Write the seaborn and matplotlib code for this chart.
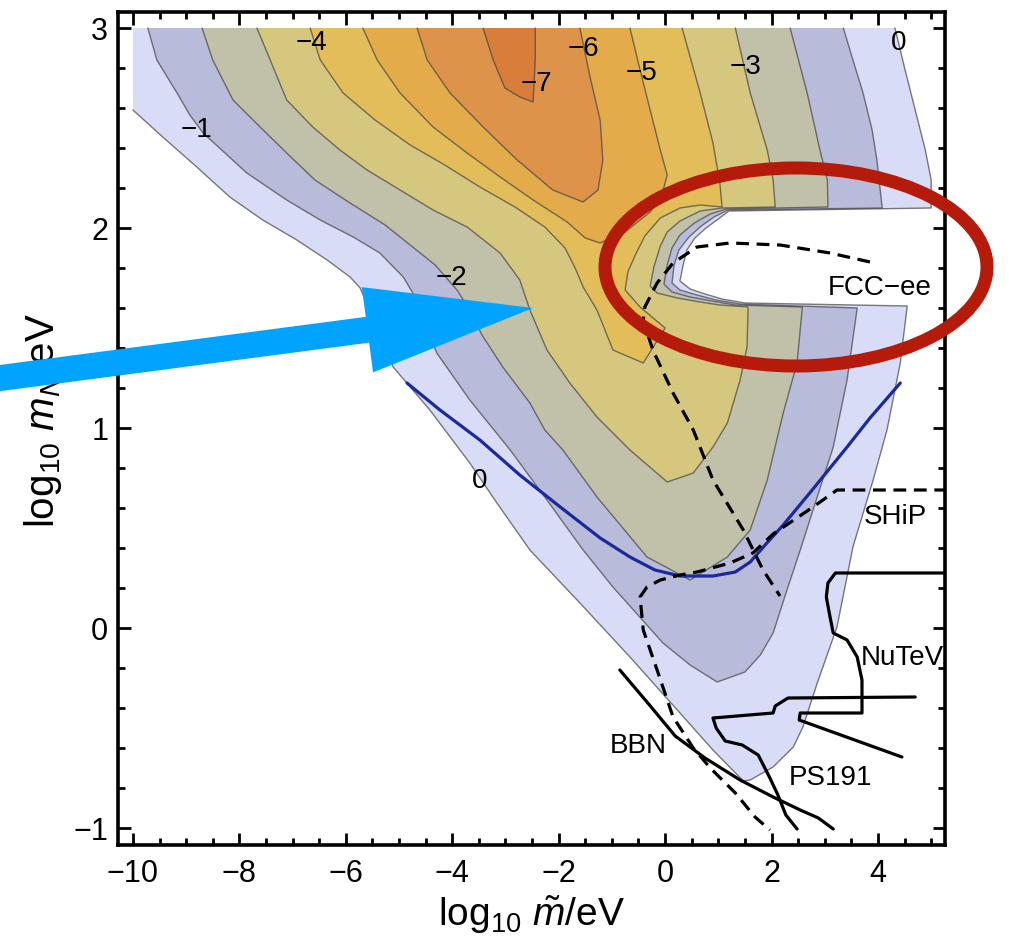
import numpy as np
import matplotlib
matplotlib.use("Agg")
import matplotlib.pyplot as plt
from matplotlib.patches import Polygon, Ellipse
from matplotlib.ticker import MultipleLocator
import seaborn as sns

# ------------------------------------------------------------------
# Filled regions below each contour level, in (log10 m~/eV, log10 m_N/eV)
# ------------------------------------------------------------------
levels = [0, -1, -2, -3, -4, -5, -6, -7]

lev0_x = [-10.00, 4.32, 4.51, 4.70, 4.89, 5.00, 5.00, 1.20, 1.00, 0.77, 0.56, 0.41, 0.34, 0.28,
          0.47, 0.75, 1.07, 1.50, 4.55, 4.42, 4.17, 3.91, 3.53, 3.23, 2.86, 2.59, 2.41, 2.03,
          1.60, 1.47, 0.90, 0.28, -0.66, -1.60, -2.54, -3.16, -3.67, -4.42, -5.11, -5.73,
          -5.92, -6.35, -6.92, -7.56, -8.18, -8.80, -9.44, -10.00]
lev0_y = [3.00, 3.00, 2.79, 2.59, 2.39, 2.24, 2.10, 2.085, 2.045, 2.00, 1.95, 1.89, 1.815, 1.735,
          1.695, 1.67, 1.645, 1.625, 1.61, 1.325, 0.99, 0.74, 0.405, 0.005, -0.275, -0.495,
          -0.595, -0.695, -0.76, -0.765, -0.61, -0.425, -0.145, 0.125, 0.39, 0.625, 0.825, 1.09,
          1.305, 1.70, 1.755, 1.84, 1.94, 2.04, 2.155, 2.305, 2.455, 2.59]

lev1_x = [-9.72, 3.35, 3.53, 3.72, 3.89, 3.98, 4.08, 1.18, 0.92, 0.68, 0.45, 0.26, 0.17, 0.13,
          0.28, 0.60, 0.96, 1.41, 3.61, 3.42, 3.16, 2.78, 2.54, 2.29, 2.03, 1.79, 1.50, 0.98,
          0.47, -0.04, -0.98, -1.54, -2.22, -2.91, -3.67, -4.29, -4.51, -4.74, -4.92, -5.36,
          -5.86, -6.48, -7.11, -7.86, -8.68, -8.93, -9.17, -9.55]
lev1_y = [3.00, 3.00, 2.84, 2.675, 2.49, 2.34, 2.10, 2.09, 2.055, 2.01, 1.955, 1.89, 1.815, 1.725,
          1.69, 1.665, 1.64, 1.62, 1.60, 1.24, 0.905, 0.59, 0.39, 0.19, -0.025, -0.135, -0.22,
          -0.27, -0.185, -0.075, 0.205, 0.39, 0.64, 0.89, 1.14, 1.375, 1.525, 1.675, 1.755,
          1.875, 1.955, 2.04, 2.14, 2.275, 2.475, 2.565, 2.675, 2.84]

lev2_x = [-8.70, 2.35, 2.67, 2.91, 3.05, 3.06, 1.15, 0.85, 0.55, 0.28, 0.13, 0.04, -0.02, 0.13,
          0.47, 0.88, 1.32, 2.58, 2.48, 2.22, 1.92, 1.60, 1.17, 0.47, -0.34, -1.28, -1.92, -2.26,
          -2.54, -3.05, -3.44, -3.67, -3.91, -4.32, -4.79, -5.26, -5.92, -6.58, -7.11, -7.61,
          -8.12, -8.50]
lev2_y = [3.00, 3.00, 2.675, 2.39, 2.24, 2.105, 2.095, 2.07, 2.025, 1.965, 1.90, 1.815, 1.72, 1.68,
          1.655, 1.635, 1.615, 1.605, 1.325, 1.075, 0.74, 0.49, 0.355, 0.24, 0.355, 0.655, 0.89,
          0.99, 1.125, 1.305, 1.465, 1.59, 1.69, 1.815, 1.915, 2.015, 2.125, 2.24, 2.375, 2.505,
          2.64, 2.84]

lev3_x = [-7.67, 1.32, 1.60, 1.92, 2.03, 2.07, 1.07, 0.66, 0.28, 0.04, -0.09, -0.21, -0.28, -0.15,
          0.23, 0.66, 1.03, 1.56, 1.54, 1.41, 1.17, 0.90, 0.53, 0.04, -0.66, -1.28, -1.79, -2.22,
          -2.54, -2.73, -3.10, -3.72, -4.36, -4.98, -5.60, -6.11, -6.62, -7.11, -7.42]
lev3_y = [3.00, 3.00, 2.675, 2.39, 2.24, 2.105, 2.10, 2.085, 2.035, 1.98, 1.91, 1.805, 1.71, 1.675,
          1.65, 1.63, 1.615, 1.605, 1.405, 1.24, 1.025, 0.905, 0.775, 0.73, 0.89, 1.055, 1.225,
          1.39, 1.59, 1.74, 1.875, 2.005, 2.09, 2.19, 2.29, 2.39, 2.505, 2.64, 2.84]

lev4_x = [-6.67, 0.32, 0.66, 0.90, 1.03, 1.07, 0.66, 0.28, -0.09, -0.38, -0.56, -0.70, -0.75,
          -0.47, 0.00, -0.41, -0.98, -1.28, -1.54, -1.69, -1.88, -2.26, -2.82, -3.48, -4.14,
          -4.79, -5.45, -6.05, -6.48]
lev4_y = [3.00, 3.00, 2.675, 2.425, 2.225, 2.105, 2.115, 2.10, 2.05, 1.96, 1.865, 1.78, 1.69,
          1.605, 1.50, 1.325, 1.39, 1.59, 1.705, 1.80, 1.90, 2.005, 2.105, 2.205, 2.315, 2.415,
          2.54, 2.675, 2.84]

lev5_x = [-5.68, -0.66, -0.47, -0.28, -0.09, 0.04, -0.06, -0.28, -0.75, -1.22, -1.50, -1.84,
          -2.48, -3.10, -3.72, -4.36, -4.98, -5.41]
lev5_y = [3.00, 3.00, 2.79, 2.59, 2.39, 2.265, 2.165, 2.08, 1.98, 1.925, 1.95, 2.03, 2.14, 2.255,
          2.375, 2.505, 2.675, 2.84]

lev6_x = [-4.66, -1.60, -1.41, -1.22, -1.17, -1.26, -1.54, -2.11, -2.78, -3.42, -4.04, -4.47]
lev6_y = [3.00, 3.00, 2.755, 2.54, 2.34, 2.19, 2.13, 2.19, 2.34, 2.505, 2.675, 2.84]

lev7_x = [-3.42, -2.44, -2.44, -2.48, -2.73, -3.01, -3.23]
lev7_y = [3.00, 3.00, 2.84, 2.63, 2.655, 2.70, 2.84]

band_colors = ["#D8DCF6", "#B8BCDA", "#C1C0A8", "#D6C77F",
               "#E3BD59", "#E4AB4B", "#DE934B", "#D97D3B"]

# contour value labels
clabel_text = ["\u22121", "\u22124", "\u22127", "\u22126", "\u22125", "\u22123", "0", "\u22122", "0"]
clabel_x = [-8.80, -6.64, -2.41, -1.54, -0.45, 1.52, 4.38, -4.02, -3.48]
clabel_y = [2.49, 2.925, 2.72, 2.895, 2.775, 2.805, 2.925, 1.75, 0.735]

# ------------------------------------------------------------------
# Sensitivity / exclusion curves
# ------------------------------------------------------------------
blue_x = [-4.85, -4.23, -3.48, -2.73, -1.97, -1.22, -0.66, -0.19, 0.28, 0.90, 1.32, 1.60, 1.88,
          2.22, 2.78, 3.42, 3.85, 4.42]
blue_y = [1.225, 1.09, 0.94, 0.765, 0.605, 0.45, 0.355, 0.29, 0.26, 0.26, 0.28, 0.33, 0.415,
          0.515, 0.695, 0.905, 1.05, 1.225]

fcc_x = [3.85, 3.10, 2.16, 1.22, 0.60, 0.15, -0.15, -0.38, -0.41, -0.23, 0.15, 0.53, 0.90, 1.47,
         1.84, 2.16]
fcc_y = [1.83, 1.875, 1.915, 1.925, 1.905, 1.825, 1.725, 1.605, 1.54, 1.39, 1.175, 0.99, 0.74,
         0.49, 0.29, 0.16]

ship_x = [5.30, 3.23, 2.78, 2.03, 1.65, 1.22, 0.60, 0.28, -0.09, -0.34, -0.47, -0.41, -0.15, 0.15,
          0.53, 0.85, 1.32, 1.69, 1.97]
ship_y = [0.69, 0.69, 0.605, 0.47, 0.375, 0.325, 0.28, 0.265, 0.24, 0.205, 0.155, -0.01, -0.21,
          -0.445, -0.60, -0.70, -0.825, -0.945, -1.01]

bbn_x = [-0.85, -0.34, 0.19, 0.75, 1.41, 2.03, 2.54, 2.88, 3.16]
bbn_y = [-0.21, -0.37, -0.54, -0.65, -0.76, -0.845, -0.91, -0.95, -1.005]

ps191_x = [2.48, 2.27, 2.12, 1.97, 1.75, 1.45, 1.13, 0.96, 0.90, 2.03, 2.07, 2.31, 4.70]
ps191_y = [-1.005, -0.935, -0.835, -0.75, -0.635, -0.585, -0.565, -0.50, -0.45, -0.425, -0.39,
           -0.35, -0.345]

nutev_x = [5.36, 3.20, 3.06, 3.03, 3.10, 3.16, 3.42, 3.61, 3.70, 3.70, 2.54, 2.52, 4.45]
nutev_y = [0.275, 0.275, 0.225, 0.155, 0.055, -0.025, -0.06, -0.145, -0.26, -0.425, -0.425,
           -0.46, -0.645]

exp_names = ["FCC\u2212ee", "SHiP", "NuTeV", "BBN", "PS191"]
exp_x = [4.04, 4.32, 4.45, -0.51, 3.10]
exp_y = [1.70, 0.555, -0.15, -0.59, -0.75]

# ------------------------------------------------------------------
sns.set_theme(style="ticks")
plt.rcParams["font.family"] = ["Liberation Sans", "DejaVu Sans"]
plt.rcParams["mathtext.fontset"] = "custom"
plt.rcParams["mathtext.rm"] = "Liberation Sans"
plt.rcParams["mathtext.it"] = "Liberation Sans:italic"
plt.rcParams["mathtext.bf"] = "Liberation Sans:bold"

W_PX, H_PX, DPI = 1009, 943, 100
fig = plt.figure(figsize=(W_PX / DPI, H_PX / DPI), dpi=DPI)
fig.patch.set_facecolor("white")
ax = fig.add_axes([118 / W_PX, 98 / H_PX, 827 / W_PX, 833 / H_PX])
ax.set_facecolor("white")

regions = [(lev0_x, lev0_y), (lev1_x, lev1_y), (lev2_x, lev2_y), (lev3_x, lev3_y),
           (lev4_x, lev4_y), (lev5_x, lev5_y), (lev6_x, lev6_y), (lev7_x, lev7_y)]

for i, ((xs, ys), col) in enumerate(zip(regions, band_colors)):
    ax.fill(xs, ys, color=col, lw=0, zorder=1 + i)

# contour lines (the plot-range edges carry no line)
for i, (xs, ys) in enumerate(regions):
    if i == 0:
        ex, ey = xs[1:], ys[1:]
    else:
        ex, ey = xs[1:] + xs[:1], ys[1:] + ys[:1]
    ax.plot(ex, ey, color="#444444", lw=1.0, alpha=0.7, zorder=12,
            solid_joinstyle="round")

for s, x, y in zip(clabel_text, clabel_x, clabel_y):
    ax.text(x, y, s, fontsize=20, ha="center", va="center", color="black", zorder=20)

dash = (0, (4, 2.4))
sns.lineplot(x=blue_x, y=blue_y, sort=False, estimator=None, ax=ax,
             color="#1B2A9A", lw=2.3, zorder=14)
sns.lineplot(x=fcc_x, y=fcc_y, sort=False, estimator=None, ax=ax,
             color="black", lw=2.3, linestyle=dash, zorder=15)
sns.lineplot(x=ship_x, y=ship_y, sort=False, estimator=None, ax=ax,
             color="black", lw=2.3, linestyle=dash, zorder=15)
for cx, cy in [(bbn_x, bbn_y), (ps191_x, ps191_y), (nutev_x, nutev_y)]:
    sns.lineplot(x=cx, y=cy, sort=False, estimator=None, ax=ax,
                 color="black", lw=2.3, zorder=15)

for s, x, y in zip(exp_names, exp_x, exp_y):
    ax.text(x, y, s, fontsize=20, ha="center", va="center", color="black", zorder=20)

# axes, ticks and frame
ax.set_xlim(-10.28, 5.26)
ax.set_ylim(-1.085, 3.08)
ax.xaxis.set_major_locator(MultipleLocator(2))
ax.xaxis.set_minor_locator(MultipleLocator(0.5))
ax.yaxis.set_major_locator(MultipleLocator(1))
ax.yaxis.set_minor_locator(MultipleLocator(0.2))
ax.tick_params(which="both", direction="in", top=True, right=True, bottom=True, left=True,
               color="black", width=2.0, labelcolor="black", labelsize=22)
ax.tick_params(which="major", length=9)
ax.tick_params(which="minor", length=5)
ax.tick_params(axis="x", which="major", pad=10)
ax.tick_params(axis="y", which="major", pad=7)
for sp in ax.spines.values():
    sp.set_linewidth(2.6)
    sp.set_color("black")
    sp.set_zorder(30)

ax.set_xlabel(r"$\mathrm{log}_{10}\ \tilde{m}/\mathrm{eV}$", fontsize=28, color="black")
ax.set_ylabel(r"$\mathrm{log}_{10}\ m_N/\mathrm{eV}$", fontsize=29, color="black")
ax.xaxis.set_label_coords(0.5, -0.058)
ax.yaxis.set_label_coords(-0.065, 0.51)


# ------------------------------------------------------------------
# Highlight marks on top of the figure (pixel geometry, origin top-left)
# ------------------------------------------------------------------
def px_to_in(px, py):
    return px / DPI, (H_PX - py) / DPI


ARROW_TAIL = np.array([-30.0, 382.0])
ARROW_TIP = np.array([533.0, 308.0])
SHAFT_HALF, HEAD_HALF, HEAD_LEN = 13.0, 43.0, 167.0
u = (ARROW_TIP - ARROW_TAIL) / np.linalg.norm(ARROW_TIP - ARROW_TAIL)
n = np.array([-u[1], u[0]])
base = ARROW_TIP - HEAD_LEN * u
pts_px = [ARROW_TAIL + SHAFT_HALF * n, base + SHAFT_HALF * n, base + HEAD_HALF * n, ARROW_TIP,
          base - HEAD_HALF * n, base - SHAFT_HALF * n, ARROW_TAIL - SHAFT_HALF * n]
pts_in = [px_to_in(p[0], p[1]) for p in pts_px]
arrow = Polygon(pts_in, closed=True, facecolor="#00A4FF", edgecolor="none",
                transform=fig.dpi_scale_trans, zorder=50)
fig.add_artist(arrow)

ell_c = px_to_in(796, 267)
ellipse = Ellipse(ell_c, width=2 * 191 / DPI, height=2 * 99 / DPI, facecolor="none",
                  edgecolor="#B51B0B", lw=13 * 72 / DPI, transform=fig.dpi_scale_trans,
                  zorder=50)
fig.add_artist(ellipse)

fig.savefig("out.png", dpi=DPI, facecolor="white")
